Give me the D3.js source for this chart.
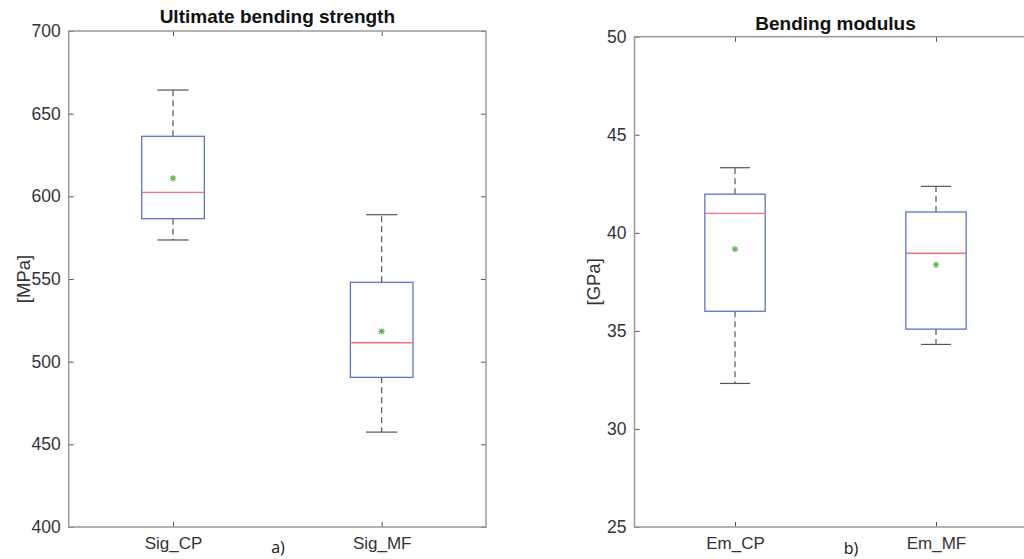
<!DOCTYPE html>
<html><head><meta charset="utf-8">
<script src="https://cdn.jsdelivr.net/npm/d3@7"></script>
<style>body{margin:0;background:#fff;overflow:hidden}svg{display:block}</style>
</head><body>
<svg id="c" width="1024" height="559"></svg>
<script>
// Data
const sigCategories = ["Sig_CP", "Sig_MF"];
const sigLowerWhisker = [573.6, 457.4];
const sigQ1 = [586.5, 490.5];
const sigMedian = [602.4, 511.4];
const sigQ3 = [636.3, 548.0];
const sigUpperWhisker = [664.3, 588.9];
const sigMean = [610.9, 518.3];
const sigTicks = [400, 450, 500, 550, 600, 650, 700];

const emCategories = ["Em_CP", "Em_MF"];
const emLowerWhisker = [32.32, 34.31];
const emQ1 = [36.0, 35.09];
const emMedian = [40.99, 38.96];
const emQ3 = [41.97, 41.06];
const emUpperWhisker = [43.32, 42.37];
const emMean = [39.17, 38.37];
const emTicks = [25, 30, 35, 40, 45, 50];

const svg = d3.select("#c");
const FONT = "'Liberation Sans', Arial, sans-serif";
const axisColor = "#9a9a9a";
const textColor = "#333";

function panel(o) {
  const g = svg.append("g");
  const x = d3.scaleLinear().domain([0.5, 2.5]).range([o.left, o.right]);
  const y = d3.scaleLinear().domain(o.ydom).range([o.bottom, o.top]);
  const idx = o.cats.map((c, i) => i + 1);

  const yAxis = d3.axisLeft(y).tickValues(o.ticks).tickSize(-5).tickPadding(8);
  const ga = g.append("g").attr("transform", `translate(${o.left},0)`).call(yAxis);
  ga.select(".domain").remove();
  ga.selectAll("line").attr("stroke", "#555").attr("stroke-width", 1);
  ga.selectAll("text").attr("font-family", FONT).attr("font-size", 17.5).attr("fill", textColor);
  const gr = g.append("g").attr("transform", `translate(${o.right},0)`).call(d3.axisRight(y).tickValues(o.ticks).tickSize(-5).tickFormat(""));
  gr.select(".domain").remove();
  gr.selectAll("line").attr("stroke", "#555").attr("stroke-width", 1);

  const xAxis = d3.axisBottom(x).tickValues(idx).tickFormat((d) => o.cats[d - 1]).tickSize(-5).tickPadding(10);
  const gx = g.append("g").attr("transform", `translate(0,${o.bottom})`).call(xAxis);
  gx.select(".domain").remove();
  gx.selectAll("line").attr("stroke", "#555").attr("stroke-width", 1);
  gx.selectAll("text").attr("font-family", FONT).attr("font-size", 17).attr("fill", textColor);
  const gt = g.append("g").attr("transform", `translate(0,${o.top})`).call(d3.axisTop(x).tickValues(idx).tickSize(-5).tickFormat(""));
  gt.select(".domain").remove();
  gt.selectAll("line").attr("stroke", "#555").attr("stroke-width", 1);

  g.append("rect").attr("x", o.left).attr("y", o.top)
    .attr("width", o.right - o.left).attr("height", o.bottom - o.top)
    .attr("fill", "none").attr("stroke", axisColor).attr("stroke-width", 1.5);

  const bw = 0.15, cw = 0.075;
  idx.forEach((c, i) => {
    g.append("line").attr("x1", x(c)).attr("x2", x(c)).attr("y1", y(o.q3[i])).attr("y2", y(o.uw[i]))
      .attr("stroke", "#555").attr("stroke-width", 1.2).attr("stroke-dasharray", "6,4");
    g.append("line").attr("x1", x(c)).attr("x2", x(c)).attr("y1", y(o.q1[i])).attr("y2", y(o.lw[i]))
      .attr("stroke", "#555").attr("stroke-width", 1.2).attr("stroke-dasharray", "6,4");
    g.append("line").attr("x1", x(c - cw)).attr("x2", x(c + cw)).attr("y1", y(o.uw[i])).attr("y2", y(o.uw[i]))
      .attr("stroke", "#555").attr("stroke-width", 1.2);
    g.append("line").attr("x1", x(c - cw)).attr("x2", x(c + cw)).attr("y1", y(o.lw[i])).attr("y2", y(o.lw[i]))
      .attr("stroke", "#555").attr("stroke-width", 1.2);
    g.append("rect").attr("x", x(c - bw)).attr("y", y(o.q3[i]))
      .attr("width", x(c + bw) - x(c - bw)).attr("height", y(o.q1[i]) - y(o.q3[i]))
      .attr("fill", "none").attr("stroke", "#5f72cc").attr("stroke-width", 1.3);
    g.append("line").attr("x1", x(c - bw)).attr("x2", x(c + bw)).attr("y1", y(o.med[i])).attr("y2", y(o.med[i]))
      .attr("stroke", "#f26d7d").attr("stroke-width", 1.4);
    const mx = x(c), my = y(o.mean[i]), r = 3.2, r2 = 2.3;
    g.append("path")
      .attr("d", `M${mx - r},${my}L${mx + r},${my}M${mx},${my - r}L${mx},${my + r}M${mx - r2},${my - r2}L${mx + r2},${my + r2}M${mx - r2},${my + r2}L${mx + r2},${my - r2}`)
      .attr("stroke", "#5cb84a").attr("stroke-width", 1.1).attr("fill", "none");
  });

  g.append("text").attr("x", (o.left + o.right) / 2).attr("y", o.titleY)
    .attr("text-anchor", "middle").attr("font-family", FONT).attr("font-weight", "bold")
    .attr("font-size", 19).attr("fill", "#111").text(o.title);
  g.append("text").attr("transform", `translate(${o.ylabX},${(o.top + o.bottom) / 2}) rotate(-90)`)
    .attr("text-anchor", "middle").attr("font-family", FONT).attr("font-size", 18.5)
    .attr("fill", textColor).text(o.ylabel);
  g.append("text").attr("x", o.subX).attr("y", o.subY).attr("text-anchor", "middle")
    .attr("font-family", "'Open Sans', 'Noto Sans', sans-serif").attr("font-size", 16)
    .attr("fill", "#111").text(o.sub);
}

panel({
  left: 68.7, right: 486, top: 31, bottom: 527, ydom: [400, 700], ticks: sigTicks,
  cats: sigCategories, lw: sigLowerWhisker, q1: sigQ1, med: sigMedian, q3: sigQ3, uw: sigUpperWhisker, mean: sigMean,
  title: "Ultimate bending strength", titleY: 23, ylabel: "[MPa]", ylabX: 30, sub: "a)", subX: 278, subY: 553
});
panel({
  left: 634.5, right: 1036.5, top: 36.7, bottom: 527, ydom: [25, 50], ticks: emTicks,
  cats: emCategories, lw: emLowerWhisker, q1: emQ1, med: emMedian, q3: emQ3, uw: emUpperWhisker, mean: emMean,
  title: "Bending modulus", titleY: 30, ylabel: "[GPa]", ylabX: 600, sub: "b)", subX: 851, subY: 554
});
</script>
</body></html>
